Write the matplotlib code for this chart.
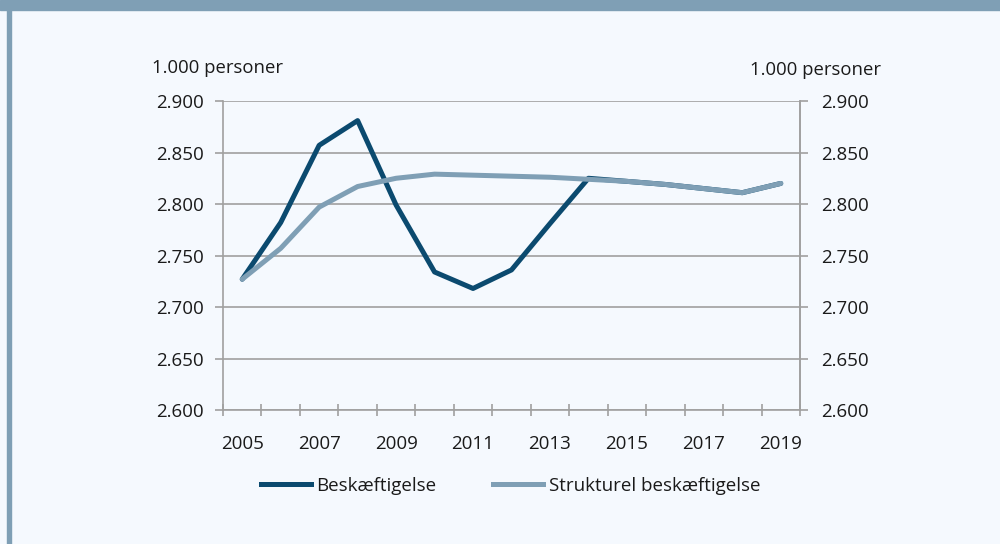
import numpy as np
import matplotlib.pyplot as plt
from matplotlib.patches import Rectangle
from matplotlib.lines import Line2D

years = [str(y) for y in range(2005, 2020)]
beskaeftigelse = [2727, 2782, 2857, 2881, 2799, 2734, 2718, 2736, 2781, 2825,
                  2822, 2819, 2815, 2811, 2820]
strukturel = [2727, 2757, 2797, 2817, 2825, 2829, 2828, 2827, 2826, 2824,
              2822, 2819, 2815, 2811, 2820]
yticks = [2600, 2650, 2700, 2750, 2800, 2850, 2900]

dark = '#0b4a6f'
light = '#7f9fb5'
bg = '#f5f9fe'
grid = '#a0a0a0'
txt = '#1a1a1a'

plt.rcParams['font.family'] = ['Open Sans', 'DejaVu Sans']


def fmt(v):
    return f'{v:,}'.replace(',', '.')


def main():
    fig = plt.figure(figsize=(10, 5.44), dpi=100, facecolor=bg)
    # header bar and left edge
    fig.patches.append(Rectangle((0, 1 - 10 / 544), 1, 10 / 544, transform=fig.transFigure,
                                 color=light, zorder=0))
    fig.patches.append(Rectangle((0.007, 0), 0.004, 1 - 10 / 544, transform=fig.transFigure,
                                 color=light, zorder=0))

    ax = fig.add_axes([0.223, 0.2463, 0.577, 0.568])
    ax.set_facecolor(bg)
    x = np.arange(len(years))
    ax.plot(x, beskaeftigelse, color=dark, lw=3.6, solid_capstyle='round', zorder=3)
    ax.plot(x, strukturel, color=light, lw=3.6, solid_capstyle='round', zorder=4)

    ax.set_xlim(-0.5, len(years) - 0.5)
    ax.set_ylim(2600, 2900)
    ax.set_yticks(yticks)
    ax.set_yticklabels([fmt(v) for v in yticks], fontsize=13.5, color=txt)
    ax.set_xticks(np.arange(-0.5, len(years), 1.0), minor=False)
    ax.set_xticklabels([])
    ax.set_xticks(x[::2], minor=True)
    ax.set_xticklabels(years[::2], minor=True, fontsize=13.5, color=txt)
    ax.tick_params(axis='x', which='major', direction='inout', length=8, color=grid, width=1.2)
    ax.tick_params(axis='x', which='minor', length=0, pad=18)
    ax.tick_params(axis='y', direction='out', length=6, color=grid, width=1.2, pad=8)
    ax.grid(axis='y', color=grid, lw=1.2, zorder=1)
    ax.spines['top'].set_visible(False)
    for s in ['left', 'right', 'bottom']:
        ax.spines[s].set_color(grid)
        ax.spines[s].set_linewidth(1.2)

    ax2 = ax.twinx()
    ax2.set_ylim(2600, 2900)
    ax2.set_yticks(yticks)
    ax2.set_yticklabels([fmt(v) for v in yticks], fontsize=13.5, color=txt)
    ax2.tick_params(axis='y', direction='out', length=6, color=grid, width=1.2, pad=9)
    for s in ['top', 'left', 'bottom']:
        ax2.spines[s].set_visible(False)
    ax2.spines['right'].set_color(grid)
    ax2.spines['right'].set_linewidth(1.2)

    fig.text(0.152, 1 - 68 / 544, '1.000 personer', fontsize=13.3, va='center', ha='left',
             color=txt)
    fig.text(0.750, 1 - 70 / 544, '1.000 personer', fontsize=13.3, va='center', ha='left',
             color=txt)

    handles = [Line2D([], [], color=dark, lw=3.6), Line2D([], [], color=light, lw=3.6)]
    leg = fig.legend(handles, ['Beskæftigelse', 'Strukturel beskæftigelse'], loc='center',
                     bbox_to_anchor=(0.5105, 1 - 486 / 544), ncol=2, frameon=False,
                     fontsize=13.5, handlelength=2.67, handletextpad=0.32, columnspacing=3.0)
    for t in leg.get_texts():
        t.set_color(txt)

    fig.savefig('out.png', dpi=100, facecolor=bg)


if __name__ == '__main__':
    main()
